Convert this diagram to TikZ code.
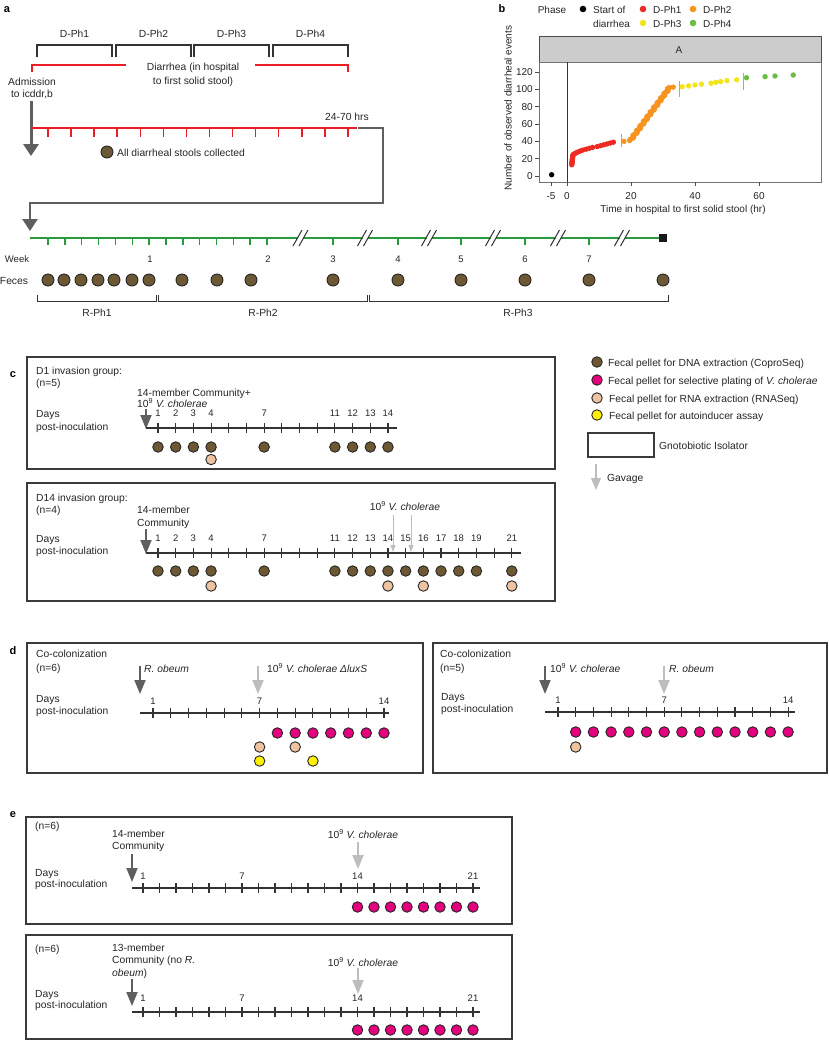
\documentclass[tikz,border=0pt]{standalone}
\usepackage{fontspec}
\setmainfont{Liberation Sans}
\usetikzlibrary{arrows.meta}
\definecolor{brn}{HTML}{6E5834}
\definecolor{peach}{HTML}{EEC3A0}
\definecolor{mag}{HTML}{E5007D}
\definecolor{yel}{HTML}{FFEF00}
\definecolor{redl}{HTML}{EE1C25}
\definecolor{grn}{HTML}{2A9A3E}
\definecolor{dgray}{HTML}{5F5F5F}
\definecolor{lgray}{HTML}{BDBDBD}
\definecolor{boxc}{HTML}{3A3A3A}
\definecolor{pred}{HTML}{EE2A24}
\definecolor{porg}{HTML}{F7941D}
\definecolor{pyel}{HTML}{F2E51E}
\definecolor{pgrn}{HTML}{6CBD45}
\definecolor{txtc}{HTML}{262626}
\tikzset{
  txt/.style={font=\fontsize{10.3}{12.5}\selectfont, inner sep=0pt, text=txtc},
  tb/.style={txt, anchor=base west},
  tbc/.style={txt, anchor=base},
  num/.style={font=\fontsize{9.5}{11}\selectfont, inner sep=0pt, text=txtc, anchor=base},
  plabel/.style={font=\fontsize{11}{12}\selectfont\bfseries, inner sep=0pt, anchor=base},
  pellet/.style={circle, draw=black!85, line width=0.9pt, minimum size=10.5pt, inner sep=0pt},
  bigpellet/.style={pellet, minimum size=12pt, fill=brn},
  dna/.style={pellet, fill=brn},
  rna/.style={pellet, fill=peach},
  sel/.style={pellet, fill=mag},
  ai/.style={pellet, fill=yel},
  isobox/.style={draw=boxc, line width=1.4pt},
  tline/.style={draw=black!80, line width=1.1pt},
  darrow/.style={draw=dgray, line width=1.8pt, -{Triangle[length=14pt,width=11pt]}},
  larrow/.style={draw=lgray, line width=1.8pt, -{Triangle[length=14pt,width=11pt]}},
  sarrow/.style={draw=lgray, line width=1pt, -{Triangle[length=7pt,width=5pt]}},
  garrow/.style={draw=dgray, line width=3pt, -{Triangle[length=12pt,width=15pt]}},
  brk/.style={draw=black!80, line width=1.1pt},
  redline/.style={draw=redl, line width=2pt},
  redtick/.style={draw=redl, line width=1.5pt},
  grnline/.style={draw=grn, line width=2pt},
  grntick/.style={draw=grn, line width=1.5pt},
  slash/.style={draw=black!80, line width=1pt},
  pdot/.style={circle, inner sep=0pt, minimum size=5.4pt},
  ldot/.style={circle, inner sep=0pt, minimum size=6.6pt},
  btxt/.style={font=\fontsize{10}{11}\selectfont, inner sep=0pt, text=txtc},
  bb/.style={btxt, anchor=base west},
}
\begin{document}
\begin{tikzpicture}[x=1pt,y=-1pt]
\useasboundingbox (0,0) rectangle (828,1050);
\fill[white] (0,0) rectangle (828,1050);

%% ================= panel a =================
\node[plabel] (la) at (7,12) {a};
\foreach \xa/\xb/\lab [count=\i] in {37/112/D-Ph1,116/191/D-Ph2,194/269/D-Ph3,273/348/D-Ph4}{
  \draw[brk] (\xa,57) -- (\xa,45) -- (\xb,45) -- (\xb,57);
  \node[tbc] (dph\i) at ({(\xa+\xb)/2},37) {\lab};
}
\draw[redline] (32,72) -- (32,65) -- (126,65);
\draw[redline] (255,65) -- (348,65) -- (348,72);
\node[tbc] (diar1) at (193,70) {Diarrhea (in hospital};
\node[tbc] (diar2) at (193,84) {to first solid stool)};
\node[tbc] (adm1) at (32,85) {Admission};
\node[tbc] (adm2) at (32,97) {to icddr,b};
\coordinate (admA) at (31,101);
\coordinate (admB) at (31,156);
\draw[garrow] (admA) -- (admB);
\draw[redline] (32,128) -- (357,128);
\foreach \k in {0,...,13} \draw[redtick] ({48+\k*23.07},128) -- ++(0,9);
\node[tbc] (hrs) at (347,120) {24-70 hrs};
\coordinate (cA) at (358,128);
\coordinate (cB) at (30,231);
\draw[garrow, line width=2.7pt] (cA) -- (383,128) -- (383,203) -- (30,203) -- (cB);
\node[bigpellet] (stool) at (107,152) {};
\node[tb] (stooltxt) at (117,156) {All diarrheal stools collected};

% green recovery timeline
\draw[grnline] (30,238) -- (660,238);
\foreach \k in {0,...,13} \draw[grntick] ({48+\k*16.85},238) -- ++(0,7);
\foreach \x in {333,398,461,525,589} \draw[grntick] (\x,238) -- ++(0,7);
\foreach \c in {300.5,365,429,493,558,622}{
  \fill[white] (\c-2.5,235) rectangle (\c+2.5,241);
  \draw[slash] (\c-3-4.5,246) -- (\c-3+4.5,230);
  \draw[slash] (\c+3-4.5,246) -- (\c+3+4.5,230);
}
\fill[black!90] (659,234) rectangle (667,242);
\node[num] (wk) at (17,262) {Week};
\foreach \x/\w in {150/1,268/2,333/3,398/4,461/5,525/6,589/7} \node[num] at (\x,262) {\w};
\node[tbc] (fec) at (14,284) {Feces};
\foreach \x in {48,64,81,98,114,132,149,182,217,251,333,398,461,525,589,663} \node[bigpellet] at (\x,280) {};
\draw[brk, line width=1pt] (37,295) -- (37,301) -- (156,301) -- (156,295);
\draw[brk, line width=1pt] (158,295) -- (158,301) -- (367,301) -- (367,295);
\draw[brk, line width=1pt] (369,295) -- (369,301) -- (668,301) -- (668,295);
\node[tbc] (rph1) at (97,316) {R-Ph1};
\node[tbc] (rph2) at (263,316) {R-Ph2};
\node[tbc] (rph3) at (518,316) {R-Ph3};

%% ================= panel b =================
\node[plabel] (lb) at (502,12) {b};
\node[btxt, anchor=base] (phase) at (552,13) {Phase};
\node[ldot, fill=black] (l0) at (583,9) {};
\node[bb] (l0t) at (593,13) {Start of};
\node[bb] (l0u) at (593,27) {diarrhea};
\node[ldot, fill=pred] (l1) at (643,9) {};
\node[bb] (l1t) at (653,13) {D-Ph1};
\node[ldot, fill=porg] (l2) at (693,9) {};
\node[bb] (l2t) at (703,13) {D-Ph2};
\node[ldot, fill=pyel] (l3) at (643,23) {};
\node[bb] (l3t) at (653,27) {D-Ph3};
\node[ldot, fill=pgrn] (l4) at (693,23) {};
\node[bb] (l4t) at (703,27) {D-Ph4};
\draw[draw=black!70, fill=black!20, line width=0.6pt] (539,36) rectangle (821,62);
\node[btxt, anchor=base] (strip) at (679,53) {A};
\draw[draw=black!55, line width=0.6pt] (539,62) rectangle (821,182);
\foreach \v [evaluate=\v as \py using 176-0.8667*\v] in {0,20,40,60,80,100,120}{
  \draw[black!70, line width=0.6pt] (535,\py) -- (539,\py);
  \node[btxt, anchor=east] at (533,\py) {\v};
}
\foreach \t [evaluate=\t as \px using 567+3.2*\t] in {-5,0,20,40,60}{
  \draw[black!70, line width=0.6pt] (\px,182) -- (\px,186);
  \node[btxt, anchor=base] at (\px,199) {\t};
}
\node[btxt, anchor=base] (xlab) at (683,212) {Time in hospital to first solid stool (hr)};
\node[btxt, rotate=90] (ylab) at (508,108) {Number of observed diarrheal events};
\begin{scope}[shift={(567,176)}, x=3.2pt, y=0.8667pt]
  \draw[black!80, line width=1pt] (0,-6.9) -- (0,131.5);
  \draw[gray!70, line width=0.9pt] (16.9,33) -- (16.9,48);
  \draw[gray!70, line width=0.9pt] (35,91) -- (35,110);
  \draw[gray!70, line width=0.9pt] (55,99) -- (55,119);
  \node[pdot, fill=black] at (-4.8,1.5) {};
  \foreach \n in {13,...,24} \node[pdot, fill=pred] at (1.5+0.03*\n-0.4,\n) {};
  \foreach \t/\n in {2.0/25,2.5/26,3.0/27,3.6/28,4.3/29,5.0/30,6.0/31,7.0/32,8.0/33,9.5/34,10.5/35,11.5/36,12.5/37,13.5/38,14.5/39}
    \node[pdot, fill=pred] at (\t,\n) {};
  \node[pdot, fill=porg] at (17.8,40) {};
  \node[pdot, fill=porg] at (19.6,41) {};
  \foreach \n in {42,...,102} \node[pdot, fill=porg] at ({20+(\n-42)*0.2+0.35*sin(\n*67)},\n) {};
  \node[pdot, fill=porg] at (33.2,102.5) {};
  \foreach \t/\n in {36/103,38/104,40/105,42/106,45/107,46.5/108,48/109,50/110,53/111}
    \node[pdot, fill=pyel] at (\t,\n) {};
  \foreach \t/\n in {56.1/113.4,61.9/114.6,65/115.4,70.7/116.5}
    \node[pdot, fill=pgrn] at (\t,\n) {};
\end{scope}

%% ================= panel c =================
\node[plabel] (lc) at (13,377) {c};
\draw[isobox] (27,357) rectangle (555,469);
\node[tb] (c1a) at (36,374) {D1 invasion group:};
\node[tb] (c1b) at (36,386) {(n=5)};
\node[tb] (c1c) at (137,396) {14-member Community+};
\node[tb] (c1d) at (137,407.5) {10\textsuperscript{9} \textit{V. cholerae}};
\node[tb] (c1e) at (36,417) {Days};
\node[tb] (c1f) at (36,430) {post-inoculation};
\coordinate (c1s) at (146,409);
\coordinate (c1e) at (146,429);
\draw[darrow] (c1s) -- (c1e);
\draw[tline] (146,428) -- (397,428);
\foreach \d in {1,...,14} \draw[tline] ({158+(\d-1)*17.69},423) -- ++(0,10);
\foreach \d in {1,2,3,4,7,11,12,13,14} \node[num] at ({158+(\d-1)*17.69},416) {\d};
\foreach \d in {1,2,3,4,7,11,12,13,14} \node[dna] at ({158+(\d-1)*17.69},447) {};
\node[rna] at ({158+3*17.69},459.5) {};

\draw[isobox] (27,483) rectangle (555,601);
\node[tb] (c2a) at (36,501) {D14 invasion group:};
\node[tb] (c2b) at (36,513) {(n=4)};
\node[tb] (c2c) at (137,513) {14-member};
\node[tb] (c2d) at (137,526) {Community};
\node[tb] (c2e) at (36,542) {Days};
\node[tb] (c2f) at (36,554) {post-inoculation};
\coordinate (c2s) at (146,529);
\coordinate (c2e) at (146,554);
\draw[darrow] (c2s) -- (c2e);
\draw[tline] (146,553) -- (521,553);
\foreach \d in {1,...,21} \draw[tline] ({158+(\d-1)*17.69},548) -- ++(0,10);
\foreach \d in {1,2,3,4,7,11,12,13,14,15,16,17,18,19,21} \node[num] at ({158+(\d-1)*17.69},541) {\d};
\foreach \d in {1,2,3,4,7,11,12,13,14,15,16,17,18,19,21} \node[dna] at ({158+(\d-1)*17.69},571) {};
\foreach \d in {4,14,16,21} \node[rna] at ({158+(\d-1)*17.69},586) {};
\node[tbc] (c2v) at (405,510) {10\textsuperscript{9} \textit{V. cholerae}};
\coordinate (g1s) at (393,515);
\coordinate (g1e) at (393,552);
\coordinate (g2s) at (411,515);
\coordinate (g2e) at (411,552);
\draw[sarrow] (g1s) -- (g1e);
\draw[sarrow] (g2s) -- (g2e);

% legend
\node[dna] (k1) at (597,362) {};
\node[tb] (k1t) at (608,366) {Fecal pellet for DNA extraction (CoproSeq)};
\node[sel] (k2) at (597,380) {};
\node[tb] (k2t) at (608,384) {Fecal pellet for selective plating of \textit{V. cholerae}};
\node[rna] (k3) at (597,398) {};
\node[tb] (k3t) at (609,402) {Fecal pellet for RNA extraction (RNASeq)};
\node[ai] (k4) at (597,415) {};
\node[tb] (k4t) at (609,419) {Fecal pellet for autoinducer assay};
\draw[isobox] (588,433) rectangle (654,457);
\node[tb] (k5t) at (659,449) {Gnotobiotic Isolator};
\coordinate (k6s) at (596,464);
\coordinate (k6e) at (596,490);
\draw[larrow, line width=1.6pt, -{Triangle[length=12pt,width=10pt]}] (k6s) -- (k6e);
\node[tb] (k6t) at (607,481) {Gavage};

%% ================= panel d =================
\node[plabel] (ld) at (13,654) {d};
\draw[isobox] (27,643) rectangle (423,773);
\node[tb] (d1a) at (36,657) {Co-colonization};
\node[tb] (d1b) at (36,671) {(n=6)};
\node[tb] (d1c) at (36,702) {Days};
\node[tb] (d1d) at (36,714) {post-inoculation};
\coordinate (d1s) at (140,666);
\coordinate (d1e) at (140,694);
\draw[darrow] (d1s) -- (d1e);
\node[tb] (d1r) at (144,672) {\textit{R. obeum}};
\coordinate (d1vs) at (258,666);
\coordinate (d1ve) at (258,694);
\draw[larrow] (d1vs) -- (d1ve);
\node[tb] (d1v) at (267,672) {10\textsuperscript{9} \textit{V. cholerae ΔluxS}};
\draw[tline] (140,713) -- (389,713);
\foreach \d in {1,...,14} \draw[tline] ({153+(\d-1)*17.77},708) -- ++(0,10);
\foreach \d in {1,7,14} \node[num] at ({153+(\d-1)*17.77},704) {\d};
\foreach \d in {8,...,14} \node[sel] at ({153+(\d-1)*17.77},733) {};
\foreach \d in {7,9} \node[rna] at ({153+(\d-1)*17.77},747) {};
\foreach \d in {7,10} \node[ai] at ({153+(\d-1)*17.77},761) {};

\draw[isobox] (433,643) rectangle (827,773);
\node[tb] (d2a) at (440,657) {Co-colonization};
\node[tb] (d2b) at (440,671) {(n=5)};
\node[tb] (d2c) at (441,700) {Days};
\node[tb] (d2d) at (441,712) {post-inoculation};
\coordinate (d2s) at (545,666);
\coordinate (d2e) at (545,694);
\draw[darrow] (d2s) -- (d2e);
\node[tb] (d2v) at (550,672) {10\textsuperscript{9} \textit{V. cholerae}};
\coordinate (d2rs) at (664,666);
\coordinate (d2re) at (664,694);
\draw[larrow] (d2rs) -- (d2re);
\node[tb] (d2r) at (669,672) {\textit{R. obeum}};
\draw[tline] (545,712) -- (795,712);
\foreach \d in {1,...,14} \draw[tline] ({558+(\d-1)*17.7},707) -- ++(0,10);
\foreach \d in {1,7,14} \node[num] at ({558+(\d-1)*17.7},703) {\d};
\foreach \d in {2,...,14} \node[sel] at ({558+(\d-1)*17.7},732) {};
\node[rna] at ({558+17.7},747) {};

%% ================= panel e =================
\node[plabel] (le) at (13,817) {e};
\draw[isobox] (26,817) rectangle (512,924);
\node[tb] (e1a) at (35,829) {(n=6)};
\node[tb] (e1b) at (112,837) {14-member};
\node[tb] (e1c) at (112,849) {Community};
\node[tb] (e1d) at (35,876) {Days};
\node[tb] (e1e) at (35,887) {post-inoculation};
\coordinate (e1s) at (132,854);
\coordinate (e1e) at (132,882);
\draw[darrow] (e1s) -- (e1e);
\node[tbc] (e1v) at (363,838) {10\textsuperscript{9} \textit{V. cholerae}};
\coordinate (e1vs) at (358,842);
\coordinate (e1ve) at (358,869);
\draw[larrow] (e1vs) -- (e1ve);
\draw[tline] (132,888) -- (480,888);
\foreach \d in {1,...,21} \draw[tline] ({143+(\d-1)*16.5},883) -- ++(0,10);
\foreach \d in {1,7,14,21} \node[num] at ({143+(\d-1)*16.5},879) {\d};
\foreach \d in {14,...,21} \node[sel] at ({143+(\d-1)*16.5},907) {};

\draw[isobox] (26,935) rectangle (512,1039);
\node[tb] (e2a) at (35,952) {(n=6)};
\node[tb] (e2b) at (112,951) {13-member};
\node[tb] (e2c) at (112,963) {Community (no \textit{R.}};
\node[tb] (e2d) at (112,976) {\textit{obeum})};
\node[tb] (e2e) at (35,997) {Days};
\node[tb] (e2f) at (35,1008) {post-inoculation};
\coordinate (e2s) at (132,979);
\coordinate (e2e) at (132,1006);
\draw[darrow] (e2s) -- (e2e);
\node[tbc] (e2v) at (363,966) {10\textsuperscript{9} \textit{V. cholerae}};
\coordinate (e2vs) at (358,968);
\coordinate (e2ve) at (358,994);
\draw[larrow] (e2vs) -- (e2ve);
\draw[tline] (132,1012) -- (480,1012);
\foreach \d in {1,...,21} \draw[tline] ({143+(\d-1)*16.5},1007) -- ++(0,10);
\foreach \d in {1,7,14,21} \node[num] at ({143+(\d-1)*16.5},1001) {\d};
\foreach \d in {14,...,21} \node[sel] at ({143+(\d-1)*16.5},1030) {};
\end{tikzpicture}
\end{document}
